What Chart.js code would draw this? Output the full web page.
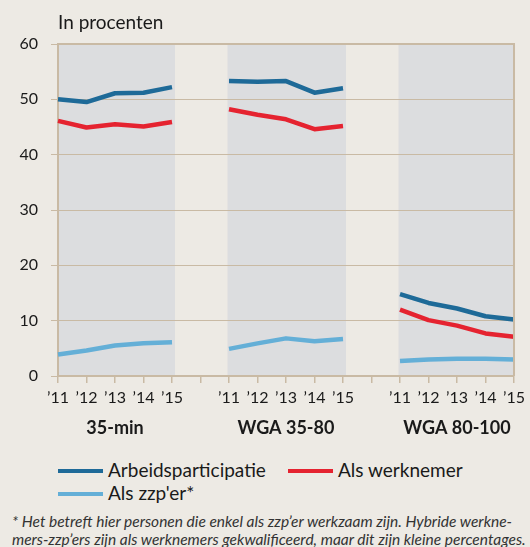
<!DOCTYPE html>
<html>
<head>
<meta charset="utf-8">
<script src="https://cdn.jsdelivr.net/npm/chart.js@4.4.0/dist/chart.umd.min.js"></script>
<style>
  body { margin: 0; background: #edeae4; font-family: Lato, "Open Sans", sans-serif; color: #1a1a1a; }
  #wrap { position: relative; width: 530px; height: 547px; overflow: hidden; }
  #box { position: absolute; left: 0; top: 0; width: 530px; height: 445px; }
  .leg { position: absolute; font-size: 19px; line-height: 22px; white-space: nowrap; }
  .leg span { display: inline-block; width: 45px; height: 4px; vertical-align: middle; margin-right: 5px; position: relative; top: -1px; }
  #note { position: absolute; left: 12px; top: 512px; width: 600px; font-style: italic; font-size: 15.5px; line-height: 18px; color: #333; white-space: nowrap; }
</style>
</head>
<body>
<div id="wrap">
  <div id="box"><canvas id="chart"></canvas></div>
  <div class="leg" style="left:58px; top:459px;"><span style="background:#1e6a98"></span>Arbeidsparticipatie</div>
  <div class="leg" style="left:288px; top:459px;"><span style="background:#e52330"></span>Als werknemer</div>
  <div class="leg" style="left:58px; top:482px;"><span style="background:#64afd7"></span>Als zzp'er*</div>
  <div id="note">* Het betreft hier personen die enkel als zzp’er werkzaam zijn. Hybride werkne-<br>mers-zzp’ers zijn als werknemers gekwalificeerd, maar dit zijn kleine percentages.</div>
</div>
<script>
// years per group, group names, and values per group ('35-min', 'WGA 35-80', 'WGA 80-100')
var years = ['’11', '’12', '’13', '’14', '’15'];
var groups = ['35-min', 'WGA 35-80', 'WGA 80-100'];
var yTicks = [0, 10, 20, 30, 40, 50, 60];

var arbeid35min = [50.0, 49.5, 51.1, 51.2, 52.2];
var arbeid35_80 = [53.3, 53.2, 53.3, 51.2, 52.0];
var arbeid80_100 = [14.8, 13.2, 12.2, 10.8, 10.2];

var werknemer35min = [46.1, 44.9, 45.5, 45.1, 45.9];
var werknemer35_80 = [48.2, 47.2, 46.4, 44.6, 45.2];
var werknemer80_100 = [12.0, 10.1, 9.1, 7.7, 7.1];

var zzp35min = [3.9, 4.6, 5.5, 5.9, 6.1];
var zzp35_80 = [4.9, 5.9, 6.8, 6.3, 6.7];
var zzp80_100 = [2.7, 3.0, 3.1, 3.1, 3.0];

// one empty slot between groups
var labels = years.concat([''], years, [''], years);
function join(a, b, c) { return a.concat([null], b, [null], c); }

var tan = '#c9baa4';

var extras = {
    id: 'extras',
    beforeDraw: function (chart) {
        var ctx = chart.ctx, area = chart.chartArea, x = chart.scales.x;
        ctx.save();
        ctx.fillStyle = '#dcdddf';
        [[0, 4], [6, 10], [12, 16]].forEach(function (b) {
            var x1 = Math.max(area.left, x.getPixelForValue(b[0]) - 1.5);
            var x2 = Math.min(area.right, x.getPixelForValue(b[1]) + 3);
            ctx.fillRect(x1, area.top, x2 - x1, area.bottom - area.top);
        });
        ctx.restore();
    },
    afterDraw: function (chart) {
        var ctx = chart.ctx, area = chart.chartArea, x = chart.scales.x;
        ctx.save();
        ctx.strokeStyle = tan;
        ctx.lineWidth = 2;
        ctx.beginPath();
        ctx.moveTo(area.left, area.top);
        ctx.lineTo(area.right, area.top);
        ctx.lineTo(area.right, area.bottom);
        ctx.stroke();
        ctx.fillStyle = '#1a1a1a';
        ctx.font = '19px Lato';
        ctx.textAlign = 'left';
        ctx.textBaseline = 'alphabetic';
        ctx.fillText('In procenten', 58, 29);
        ctx.font = 'bold 18px Lato';
        ctx.textAlign = 'center';
        ctx.textBaseline = 'middle';
        groups.forEach(function (g, i) {
            ctx.fillText(g, x.getPixelForValue(i * 6 + 2), 428);
        });
        ctx.restore();
    }
};

var ctx = document.getElementById('chart').getContext('2d');
var chart = new Chart(ctx, {
    type: 'line',
    data: {
        labels: labels,
        datasets: [
            { label: 'Arbeidsparticipatie', data: join(arbeid35min, arbeid35_80, arbeid80_100), borderColor: '#1e6a98' },
            { label: 'Als werknemer', data: join(werknemer35min, werknemer35_80, werknemer80_100), borderColor: '#e52330' },
            { label: "Als zzp'er*", data: join(zzp35min, zzp35_80, zzp80_100), borderColor: '#64afd7' }
        ]
    },
    options: {
        responsive: true,
        maintainAspectRatio: false,
        animation: false,
        spanGaps: false,
        layout: { padding: { top: 44, right: 11, left: 0, bottom: 0 } },
        elements: {
            line: { borderWidth: 4.5, tension: 0, borderCapStyle: 'butt', borderJoinStyle: 'round' },
            point: { radius: 0, hoverRadius: 0 }
        },
        plugins: { legend: { display: false }, tooltip: { enabled: false } },
        scales: {
            x: {
                offset: false,
                grid: { drawOnChartArea: false, drawTicks: true, tickLength: 7, color: tan, lineWidth: 1.5 },
                border: { color: tan, width: 2 },
                ticks: { color: '#1a1a1a', font: { family: 'Lato', size: 16 }, padding: 5, maxRotation: 0, autoSkip: false },
                afterFit: function (s) { s.height = 69; }
            },
            y: {
                min: 0,
                max: 60,
                afterBuildTicks: function (s) { s.ticks = yTicks.map(function (v) { return { value: v }; }); },
                grid: { color: tan, lineWidth: 1, tickLength: 7 },
                border: { color: tan, width: 2 },
                ticks: { color: '#1a1a1a', font: { family: 'Lato', size: 16 }, padding: 13 },
                afterFit: function (s) { s.width = 58; }
            }
        }
    },
    plugins: [extras]
});
</script>
</body>
</html>
